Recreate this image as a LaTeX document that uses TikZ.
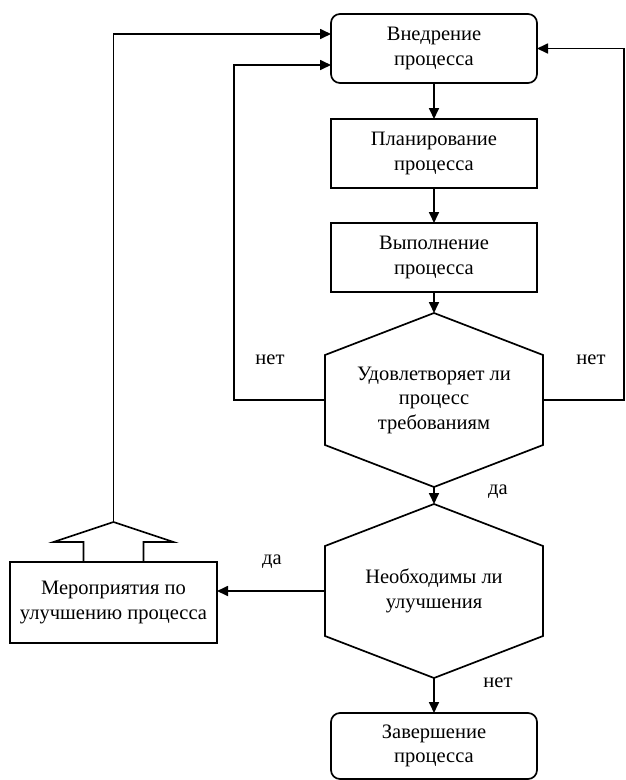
\documentclass[tikz,border=0pt]{standalone}
\usepackage{fontspec}
\setmainfont{Liberation Serif}
\usepackage{tikz}
\usetikzlibrary{positioning,arrows.meta}
\tikzset{basic/.style={draw,minimum width=206pt,minimum height=69pt,inner sep=2pt,outer sep=0pt,align=center,font=\fontsize{20.5}{24.5}\selectfont}}
\tikzset{terminal/.style={basic,rectangle,rounded corners=9pt}}
\tikzset{process/.style={basic,rectangle}}
\tikzset{decision/.style={basic,draw=none,minimum width=218pt,minimum height=174pt}}
\tikzset{answer/.style={font=\fontsize{20.5}{24.5}\selectfont}}

\begin{document}
\begin{tikzpicture}[x=1pt,y=-1pt,line width=1.7pt,>={Triangle[length=11pt,width=10pt]}]
    \useasboundingbox (0,0) rectangle (626,780);
        \node[terminal] (impl) at (434,48.5) {Внедрение\\процесса};
        \node[process,below=36pt of impl] (plan) {Планирование\\процесса};
            \path[draw,->] (impl) -- (plan);
        \node[process,below=35pt of plan] (exec) {Выполнение\\процесса};
            \path[draw,->] (plan) -- (exec);
        \node[decision,below=21pt of exec] (check) {Удовлетворяет ли\\процесс\\требованиям};
            \path[draw,->] (exec) -- (check);
        \node[decision,below=17pt of check] (need) {Необходимы ли\\улучшения};
            \path[draw,->] (check) -- (need);
        \node[terminal,minimum height=66pt,below=35pt of need] (done) {Завершение\\процесса};
            \path[draw,->] (need) -- (done);
        \node[process,minimum width=207pt,minimum height=81pt] (measures) at (113.5,602.5) {Мероприятия по\\улучшению процесса};
            \path[draw,->] (need.west) -- (need.west -| measures.east);
        % hexagons round the two questions
        \foreach \n in {check,need}
            \draw (\n.north) -- ([yshift=-42pt]\n.north east) -- ([yshift=42pt]\n.south east) -- (\n.south)
                -- ([yshift=42pt]\n.south west) -- ([yshift=-42pt]\n.north west) -- cycle;
        % feedback lines
        \coordinate (leftbus) at (234,0);
        \coordinate (rightbus) at (624,0);
            \path[draw,->] (check.west) -- (check.west -| leftbus) |- ([yshift=-16.5pt]impl.west);
            \path[draw,->] (check.east) -- (check.east -| rightbus) |- (impl.east);
        \coordinate[above=40pt of measures.north] (tip);
        \draw ([xshift=-30pt]measures.north) -- ++(0,-20) -- ++(-30,0) -- (tip) -- ++(60,20) -- ++(-30,0)
            -- ([xshift=30pt]measures.north);
            \path[draw,->] (tip) |- ([yshift=14.5pt]impl.west);
        \node[answer] (noleft) at (270,360) {нет};
        \node[answer] (noright) at (591,360) {нет};
        \node[answer] (yesdown) at (498,492) {да};
        \node[answer] (yesleft) at (272,562) {да};
        \node[answer] (nodown) at (498,683) {нет};
    \end{tikzpicture}
\end{document}
